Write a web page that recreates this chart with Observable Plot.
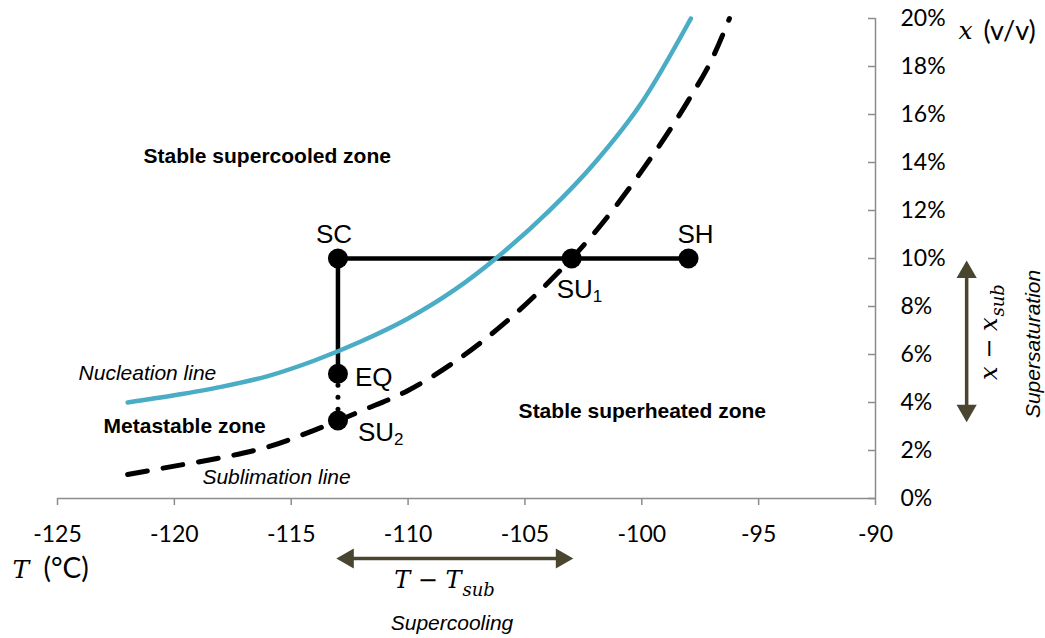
<!DOCTYPE html>
<html>
<head>
<meta charset="utf-8">
<script src="https://cdn.jsdelivr.net/npm/d3@7"></script>
<script src="https://cdn.jsdelivr.net/npm/@observablehq/plot@0.6"></script>
<style>
  body { margin: 0; background: #fff; }
  #chart { width: 1045px; height: 638px; }
</style>
</head>
<body>
<div id="chart"></div>
<script>
// ---- Axis ticks ----
const xTicks = [-125, -120, -115, -110, -105, -100, -95, -90];
const yTicks = [0, 2, 4, 6, 8, 10, 12, 14, 16, 18, 20];

// ---- Nucleation line (T in °C, x in % v/v) ----
const nucleationT = [-122, -120, -118, -116, -114, -112, -110, -108, -106, -104, -102, -100, -97.9];
const nucleationX = [4.0, 4.3, 4.65, 5.1, 5.75, 6.55, 7.5, 8.7, 10.2, 11.95, 14.0, 16.5, 20.0];

// ---- Sublimation line ----
const sublimationT = [-122, -120, -118, -116, -114, -112, -110, -108, -106, -104, -102, -100, -98, -97, -96.25];
const sublimationX = [1.0, 1.35, 1.7, 2.15, 2.85, 3.65, 4.5, 5.7, 7.2, 9.0, 11.1, 13.65, 16.6, 18.3, 20.0];

// ---- Process points ----
const pointNames = ["SC", "SH", "SU", "EQ", "SU"];
const pointSubs = ["", "", "1", "", "2"];
const pointT = [-113, -98, -103, -113, -113];
const pointX = [10, 10, 10, 5.2, 3.25];

// ---- Annotations (data coordinates) ----
const zoneNames = ["Stable supercooled zone", "Metastable zone", "Stable superheated zone"];
const zoneT = [-121.32, -123.03, -105.27];
const zoneX = [14.24, 3.03, 3.65];
const curveNames = ["Nucleation line", "Sublimation line"];
const curveNameT = [-124.10, -118.80];
const curveNameX = [5.20, 0.90];
const coolArrowT = [-113, -103];
const coolArrowX = -2.5;
const satArrowT = -86.1;
const satArrowX = [9.85, 3.25];

const grey = "#8c8c8c";
const olive = "#4a452f";
const blue = "#4BACC6";
const serif = "DejaVu Serif, serif";
const sans = "Liberation Sans, Arial, sans-serif";
const tickFont = "Lato, Open Sans, sans-serif";

const nucleation = nucleationT.map((t, i) => ({t, x: nucleationX[i]}));
const sublimation = sublimationT.map((t, i) => ({t, x: sublimationX[i]}));
const points = pointNames.map((name, i) => ({name, sub: pointSubs[i], t: pointT[i], x: pointX[i]}));
const zones = zoneNames.map((name, i) => ({name, t: zoneT[i], x: zoneX[i]}));
const curveLabels = curveNames.map((name, i) => ({name, t: curveNameT[i], x: curveNameX[i]}));

const ptLabel = (i, opts) => Plot.text([points[i]], {x: "t", y: "x", text: "name", fontSize: 26, fontFamily: sans, fill: "black", ...opts});
const ptSub = (i, opts) => Plot.text([points[i]], {x: "t", y: "x", text: "sub", fontSize: 17, fontFamily: sans, fill: "black", textAnchor: "start", ...opts});

const chart = Plot.plot({
  width: 1045,
  height: 638,
  marginLeft: 57,
  marginRight: 170,
  marginTop: 18,
  marginBottom: 140,
  x: {domain: [-125, -90]},
  y: {domain: [0, 20]},
  style: {fontFamily: sans, background: "white", color: "black", overflow: "visible"},
  marks: [
    // axes
    Plot.ruleY([0], {stroke: grey, strokeWidth: 1.5}),
    Plot.ruleX([-90], {stroke: grey, strokeWidth: 1.5}),
    Plot.axisX(xTicks, {tickSize: 7, tickPadding: 20, stroke: grey, strokeWidth: 1.5, fill: "black",
      fontSize: 23, fontFamily: tickFont, tickFormat: d => String(d), label: null}),
    Plot.ruleY(yTicks, {x1: -90, x2: -90, insetLeft: -7, stroke: grey, strokeWidth: 1.5}),
    Plot.axisY(yTicks, {anchor: "right", tickSize: 0, tickPadding: 25, fill: "black", textAnchor: "start",
      fontSize: 23, fontFamily: tickFont, tickFormat: d => d + "%", label: null}),

    // curves
    Plot.line(sublimation, {x: "t", y: "x", stroke: "black", strokeWidth: 5, strokeDasharray: "20,16", curve: "monotone-x"}),

    // process path
    Plot.ruleY([pointX[0]], {x1: pointT[0], x2: pointT[1], stroke: "black", strokeWidth: 4.5}),
    Plot.ruleX([pointT[0]], {y1: pointX[0], y2: pointX[3], stroke: "black", strokeWidth: 4.5}),
    Plot.ruleX([pointT[3]], {y1: pointX[3], y2: pointX[4], stroke: "black", strokeWidth: 5, strokeDasharray: "0,12", strokeLinecap: "round"}),

    Plot.line(nucleation, {x: "t", y: "x", stroke: blue, strokeWidth: 4.5, curve: "monotone-x"}),
    Plot.dot(points, {x: "t", y: "x", r: 10, fill: "black", stroke: "none"}),

    // point labels
    ptLabel(0, {textAnchor: "middle", dx: -4, dy: -24}),
    ptLabel(1, {textAnchor: "middle", dx: 7, dy: -24}),
    ptLabel(2, {textAnchor: "start", dx: -15, dy: 31}),
    ptSub(2, {dx: -15 + 36, dy: 38}),
    ptLabel(3, {textAnchor: "start", dx: 17, dy: 3.5}),
    ptLabel(4, {textAnchor: "start", dx: 20, dy: 12}),
    ptSub(4, {dx: 20 + 36, dy: 19}),

    // zone labels
    Plot.text(zones, {x: "t", y: "x", text: "name", textAnchor: "start", fontWeight: "bold", fontSize: 21, fontFamily: sans, fill: "black"}),
    Plot.text(curveLabels, {x: "t", y: "x", text: "name", textAnchor: "start", fontStyle: "italic", fontSize: 21, fontFamily: sans, fill: "black"}),

    // axis titles
    Plot.text(["T"], {x: -126.93, y: -2.97, text: d => d, textAnchor: "start", fontStyle: "italic", fontFamily: serif, fontSize: 25, fill: "black"}),
    Plot.text(["(°C)"], {x: -125.6, y: -2.95, text: d => d, textAnchor: "start", fontFamily: tickFont, fontSize: 28, fill: "black"}),
    Plot.text(["x"], {x: -86.45, y: 19.49, text: d => d, textAnchor: "start", fontStyle: "italic", fontFamily: serif, fontSize: 25, fill: "black"}),
    Plot.text(["(v/v)"], {x: -85.38, y: 19.47, text: d => d, textAnchor: "start", fontFamily: tickFont, fontSize: 27, fill: "black"}),

    // supercooling arrow
    Plot.ruleY([coolArrowX], {x1: coolArrowT[0], x2: coolArrowT[1], insetLeft: 12, insetRight: 12, stroke: olive, strokeWidth: 3.5}),
    Plot.dot([coolArrowT[0]], {x: d => d, y: coolArrowX, symbol: "triangle", r: 7.5, rotate: -90, dx: 10, fill: olive, stroke: "none"}),
    Plot.dot([coolArrowT[1]], {x: d => d, y: coolArrowX, symbol: "triangle", r: 7.5, rotate: 90, dx: -10, fill: olive, stroke: "none"}),
    Plot.text(["T − T"], {x: -107.71, y: -3.39, text: d => d, textAnchor: "end", fontStyle: "italic", fontFamily: serif, fontSize: 24, fill: "black"}),
    Plot.text(["sub"], {x: -107.67, y: -3.84, text: d => d, textAnchor: "start", fontStyle: "italic", fontFamily: serif, fontSize: 18, fill: "black"}),
    Plot.text(["Supercooling"], {x: -108.12, y: -5.18, text: d => d, textAnchor: "middle", fontStyle: "italic", fontFamily: sans, fontSize: 21, fill: "black"}),

    // supersaturation arrow
    Plot.ruleX([satArrowT], {y1: satArrowX[0], y2: satArrowX[1], insetTop: 12, insetBottom: 12, stroke: olive, strokeWidth: 3.5}),
    Plot.dot([satArrowX[0]], {x: satArrowT, y: d => d, symbol: "triangle", r: 7.5, rotate: 0, dy: 10, fill: olive, stroke: "none"}),
    Plot.dot([satArrowX[1]], {x: satArrowT, y: d => d, symbol: "triangle", r: 7.5, rotate: 180, dy: -10, fill: olive, stroke: "none"}),
    Plot.text(["x − x"], {x: -85.11, y: 7.54, text: d => d, rotate: -90, textAnchor: "end", fontStyle: "italic", fontFamily: serif, fontSize: 24, fill: "black"}),
    Plot.text(["sub"], {x: -85.11, y: 7.54, text: d => d, rotate: -90, textAnchor: "start", dx: 8, dy: -1, fontStyle: "italic", fontFamily: serif, fontSize: 18, fill: "black"}),
    Plot.text(["Supersaturation"], {x: -83.24, y: 6.44, text: d => d, rotate: -90, textAnchor: "middle", fontStyle: "italic", fontFamily: sans, fontSize: 21, fill: "black"})
  ]
});

document.getElementById("chart").appendChild(chart);
</script>
</body>
</html>
